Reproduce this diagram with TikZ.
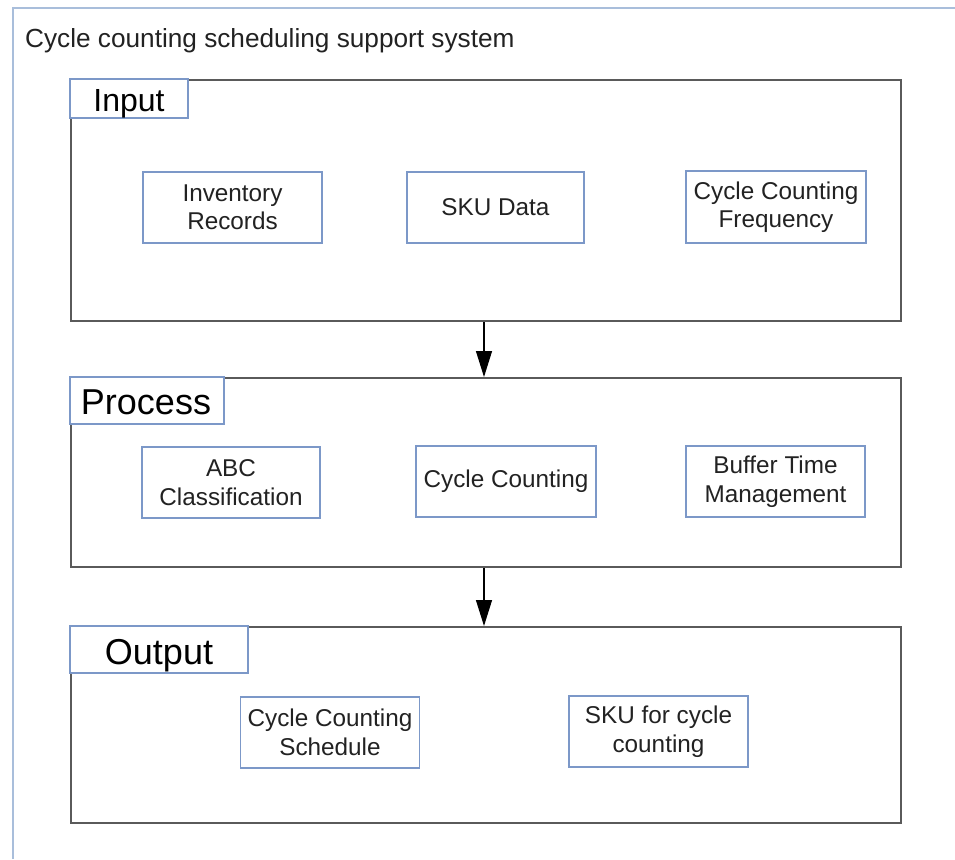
\documentclass[tikz,border=0pt]{standalone}
\usepackage{fontspec}
\setmainfont{Liberation Sans}
\usetikzlibrary{arrows.meta}
\definecolor{outerblue}{HTML}{A9BEDB}
\definecolor{boxblue}{HTML}{7C98C8}
\definecolor{frame}{HTML}{5A5A5A}
\definecolor{ink}{HTML}{222222}
\tikzset{
  x=1pt, y=-1pt,
  outer/.style={draw=outerblue, line width=1.8pt},
  group/.style={draw=frame, line width=2.2pt},
  tab/.style={draw=boxblue, line width=1.4pt, fill=white},
  item/.style={draw=boxblue, line width=1.4pt, align=center, text=ink, font=\fontsize{24.3}{28.5}\selectfont, inner sep=0pt},
  tabtext/.style={anchor=base, inner sep=0pt},
  flow/.style={draw=black, line width=1.2pt, -{Triangle[length=26pt, width=16pt]}}
}
\begin{document}
\begin{tikzpicture}
\useasboundingbox (0,0) rectangle (955,859);
\fill[white] (0,0) rectangle (955,859);
% outer frame
\draw[outer] (13,859) -- (13,8) -- (955,8);
\node[anchor=base west, inner sep=0pt, text=ink, font=\fontsize{26.2}{30}\selectfont] (title) at (25,48) {Cycle counting scheduling support system};

% Input group
\node[group, minimum width=830pt, minimum height=241pt, anchor=north west, inner sep=0pt] (inbox) at (70,79) {};
\draw[tab] (70,79) rectangle (188,118);
\node[tabtext, font=\fontsize{32}{36}\selectfont] (intab) at (129,111) {Input};
\node[item, minimum width=179pt, minimum height=71pt] (inv) at (232.5,207.5) {Inventory\\Records};
\node[item, minimum width=177pt, minimum height=71pt] (sku) at (495.5,207.5) {SKU Data};
\node[item, minimum width=180pt, minimum height=72pt] (ccf) at (776,207) {Cycle Counting\\Frequency};

% Process group
\node[group, minimum width=830pt, minimum height=189pt, anchor=north west, inner sep=0pt] (procbox) at (70,377) {};
\draw[tab] (70,377) rectangle (224,424);
\node[tabtext, font=\fontsize{36}{40}\selectfont] (proctab) at (146,414) {Process};
\node[item, minimum width=178pt, minimum height=71pt] (abc) at (231,482.5) {ABC\\Classification};
\node[item, minimum width=180pt, minimum height=71pt] (cc) at (506,481.5) {Cycle Counting};
\node[item, minimum width=179pt, minimum height=71pt] (buf) at (775.5,481.5) {Buffer Time\\Management};

% Output group
\node[group, minimum width=830pt, minimum height=196pt, anchor=north west, inner sep=0pt] (outbox) at (70,626) {};
\draw[tab] (70,626) rectangle (248,673);
\node[tabtext, font=\fontsize{36}{40}\selectfont] (outtab) at (159,664) {Output};
\node[item, minimum width=179pt, minimum height=71pt] (ccs) at (330,732.5) {Cycle Counting\\Schedule};
\node[item, minimum width=179pt, minimum height=71pt] (skuout) at (658.5,731.5) {SKU for cycle\\counting};

% connectors
\draw[flow] (inbox.south -| 484,0) -- (procbox.north -| 484,0);
\draw[flow] (procbox.south -| 484,0) -- (outbox.north -| 484,0);
\end{tikzpicture}
\end{document}
